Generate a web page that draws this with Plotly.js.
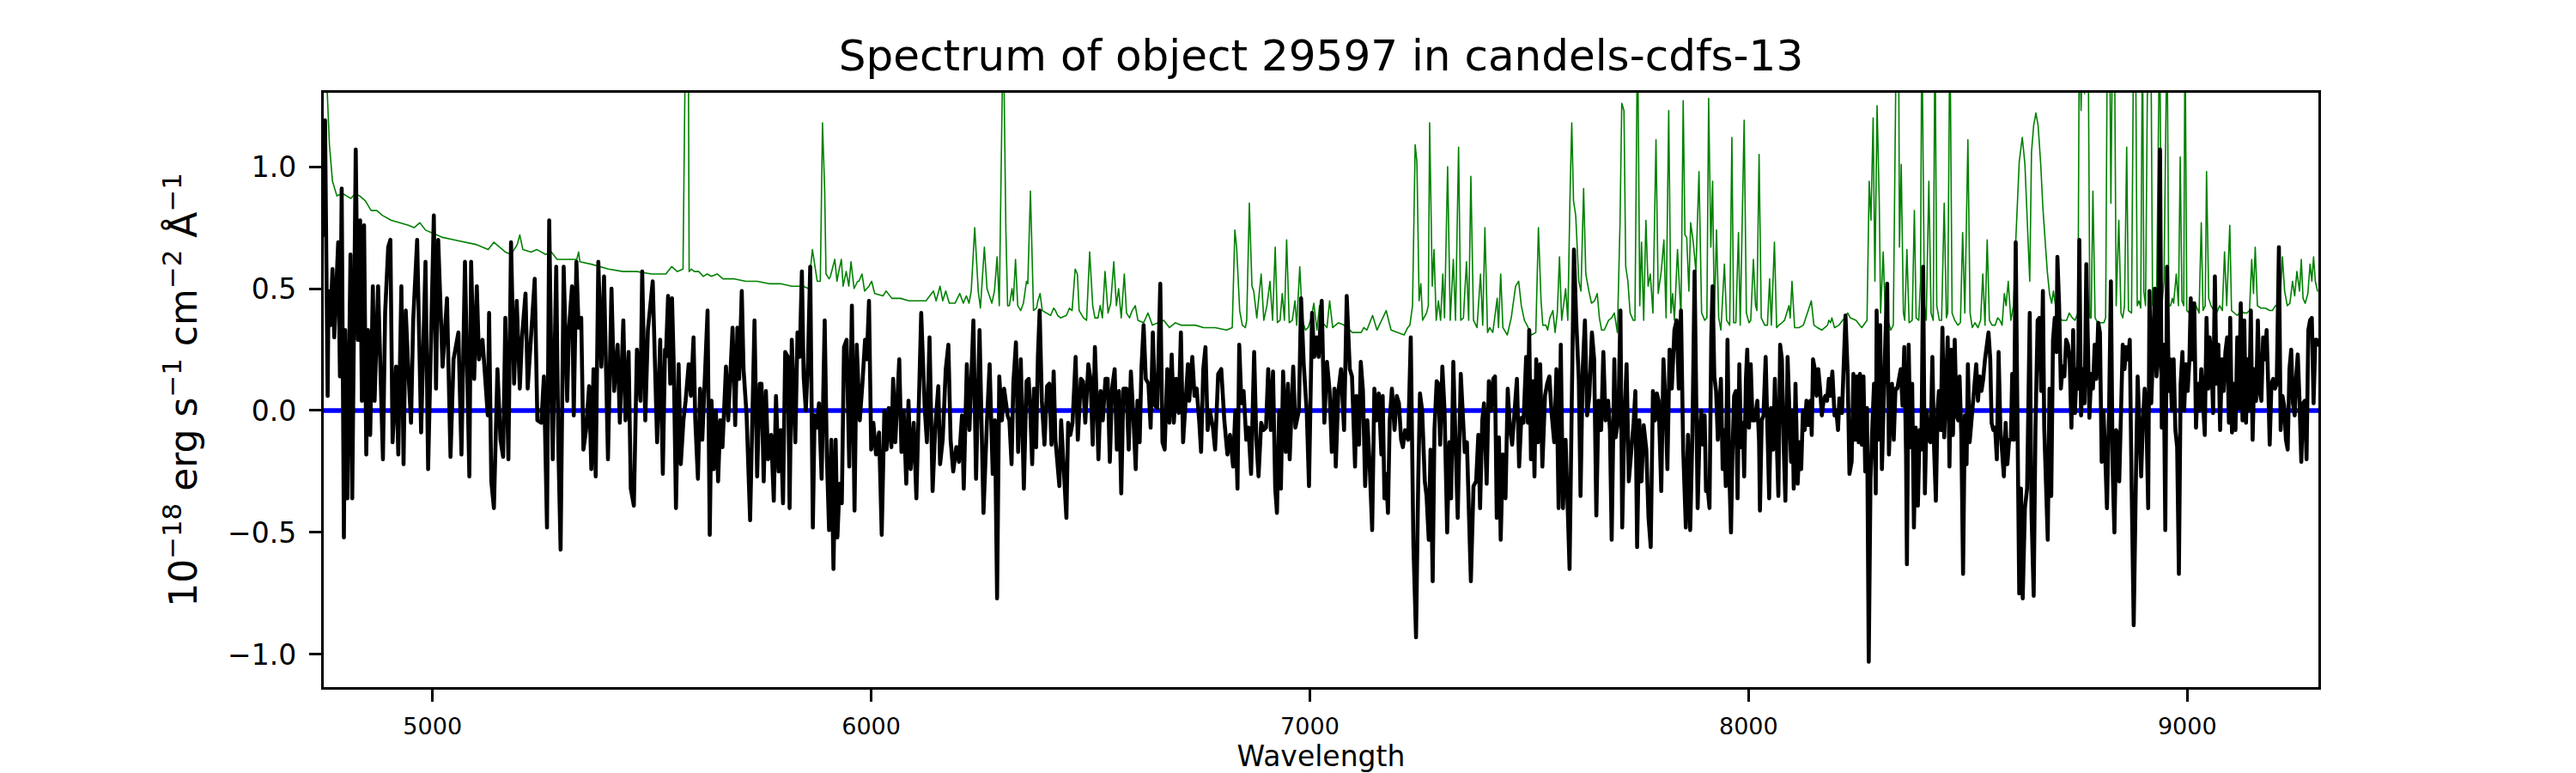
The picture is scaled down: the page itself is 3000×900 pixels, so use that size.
<!DOCTYPE html>
<html>
<head>
<meta charset="utf-8">
<script src="https://cdn.plot.ly/plotly-3.0.1.min.js"></script>
<style>
  html, body { margin: 0; padding: 0; background: #ffffff; }
  #chart { width: 3000px; height: 900px; }
  .scatterlayer path.js-line { stroke-linejoin: round; stroke-linecap: round; }
</style>
</head>
<body>
<div id="chart"></div>
<script>
// ---------- data ----------
const chartTitle = "Spectrum of object 29597 in candels-cdfs-13";
const xLabel = "Wavelength";
const yLabel = "10<sup>\u221218</sup> erg s<sup>\u22121</sup> cm<sup>\u22122</sup> \u00c5<sup>\u22121</sup>";

const xRange = [4752, 9299];
const yRange = [-1.134, 1.303];
const xTickVals = [5000, 6000, 7000, 8000, 9000];
const yTickVals = [-1.0, -0.5, 0.0, 0.5, 1.0];
const zeroLevel = 0;

// object flux (black)
const fluxWave = [
4752,4755,4761,4763,4767,4772,4776,4780,4785,4789,4793,4798,4801,4806,4813,4817,4821,4825,4830,4835,4839,4844,4849,4853,4858,4864,4868,4876,4887,4892,4899,4904,4909,4917,4922,4929,4934,4939,4945,4951,4956,4965,4974,4984,4990,4997,5003,5008,5013,5023,5033,5041,5048,5059,5066,5074,5084,5088,5095,5101,5106,5114,5126,5129,5134,5140,5148,5155,5161,5166,5173,5179,5186,5192,5199,5204,5212,5217,5224,5233,5239,5248,5254,5261,5266,5274,5282,5287,5292,5299,5307,5311,5318,5322,5328,5333,5339,5344,5350,5357,5362,5367,5372,5378,5385,5391,5400,5408,5414,5422,5427,5435,5440,5447,5452,5459,5466,5474,5478,5485,5491,5502,5512,5519,5525,5530,
5532,5537,5542,5546,5550,5555,5561,5566,5572,5577,5584,5589,5595,5599,5605,5610,5615,5621,5627,5632,5636,5641,5646,5651,5656,5661,5669,5674,5679,5684,5690,5695,5699,5705,5709,5716,5724,5734,5740,5746,5750,5755,5760,5765,5772,5778,5783,5789,5794,5799,5804,5810,5814,5819,5823,5827,5832,5837,5842,5846,5851,5856,5861,5867,5871,5876,5881,5887,5894,5899,5904,5909,5914,5919,5923,5928,5933,5938,5944,5950,5956,5962,5967,5974,5980,5986,5990,5995,6000,6005,6011,6018,6024,6030,6035,6040,6046,6050,6055,6059,6064,6069,6074,6080,6085,6090,6097,6103,6109,6114,6122,6127,6133,6140,6146,6153,6157,6163,6170,6176,6181,6187,6194,6200,6207,6211,6218,6224,6233,6239,6247,6256,6264,6270,6277,6282,6287,6292,6298,6303,6311,
6315,6320,6324,6330,6335,6341,6345,6348,6354,6359,6363,6367,6371,6376,6380,6384,6389,6395,6401,6406,6411,6416,6420,6425,6429,6433,6440,6445,6449,6454,6459,6466,6471,6478,6483,6488,6495,6500,6505,6510,6514,6518,6523,6528,6534,6539,6544,6549,6555,6560,6565,6570,6575,6582,6587,6592,6598,6603,6607,6612,6616,6621,6626,6632,6637,6642,6647,6652,6659,6664,6669,6675,6680,6685,6690,6695,6701,6706,6711,6716,6722,6725,6732,6737,6742,6748,6752,6757,6762,6767,6772,6779,6784,6791,6798,6805,6812,6818,6825,6830,6835,6839,6844,6849,6855,6860,6866,6873,6878,6883,6889,6894,6900,6905,6911,6916,6921,6925,6930,6934,6939,6945,6950,6954,6962,6967,6975,6980,6986,6993,6998,7005,7010,7015,7020,7027,7033,7039,7045,7050,7056,7059,7065,7071,7078,7084,7091,7096,
7103,7106,7112,7116,7121,7126,7131,7136,7142,7147,7152,7157,7163,7166,7170,7174,7178,7182,7187,7193,7198,7203,7208,7212,7217,7224,7230,7236,7242,7247,7251,7256,7262,7266,7271,7275,7280,7284,7289,7293,7297,7302,7307,7313,7318,7322,7327,7332,7337,7344,7349,7353,7358,7362,7367,7373,7379,7384,7388,7393,7397,7403,7408,7413,7418,7422,7426,7431,7435,7440,7446,7451,7456,7461,7467,7472,7477,7482,7487,7493,7497,7500,7504,7508,7512,7516,7520,7525,7530,7536,7541,7546,7551,7557,7562,7567,7572,7577,7583,7588,7592,7597,7602,7607,7613,7617,7622,7627,7632,7637,7643,7648,7653,7658,7664,7669,7674,7680,7684,7688,7694,7697,7703,7708,7712,7717,7722,7727,7733,7738,7742,7746,7751,7756,7761,7767,7772,7777,7782,7787,7791,7795,7801,7806,7811,7815,7820,7825,7831,7836,7841,7846,7851,7857,7862,7867,7872,7877,
7884,7888,7892,7896,7900,7903,7907,7911,7915,7918,7922,7926,7930,7933,7937,7941,7945,7948,7952,7956,7960,7963,7967,7971,7975,7979,7983,7987,7990,7994,7997,8001,8005,8009,8014,8020,8024,8026,8030,8034,8039,8043,8047,8051,8056,8060,8064,8068,8072,8076,8080,8084,8089,8093,8097,8100,8103,8107,8112,8116,8120,8124,8128,8132,8136,8141,8144,8147,8151,8155,8159,8163,8167,8171,8175,8179,8183,8187,8191,8196,8200,8204,8207,8213,8217,8221,8226,8230,8235,8239,8243,8247,8251,8254,8258,8262,8266,8270,8274,8278,8282,8286,8290,8292,8296,8300,8304,8308,8312,8316,8320,8324,8327,8331,8335,8339,8343,8347,8351,8355,8359,8361,8365,8369,8373,8377,8381,8386,8390,8394,8398,8402,8406,8410,8415,8419,8423,8427,8431,8434,8438,8442,8446,8450,8454,8458,8462,8466,8470,8474,8478,8481,8485,8489,8493,8497,8500,8504,8508,8511,8515,8519,8523,8527,8531,8535,8539,8543,8547,8551,8554,8558,8562,8566,8570,8574,8578,8582,8586,8590,8594,8598,8601,8605,8609,8613,8617,8621,8625,8630,8635,8641,8645,8650,8654,8659,
8663,8667,8671,8674,8678,8682,8686,8690,8694,8698,8702,8704,8708,8712,8716,8720,8724,8728,8732,8736,8740,8744,8748,8751,8754,8758,8762,8766,8770,8774,8777,8781,8785,8789,8793,8797,8801,8805,8809,8813,8817,8822,8826,8830,8834,8838,8841,8845,8849,8853,8857,8861,8865,8869,8873,8878,8883,8887,8891,8895,8899,8903,8907,8911,8914,8918,8922,8926,8930,8934,8938,8942,8946,8950,8954,8958,8961,8965,8969,8973,8977,8981,8985,8989,8993,8997,9001,9005,9008,9012,9016,9020,9024,9028,9032,9036,9040,9044,9048,9051,9055,9059,9063,9067,9071,9075,9079,9083,9087,9091,9095,9098,9102,9106,9110,9114,9118,9122,9126,9130,9134,9138,9141,9145,9149,9153,9157,9161,9165,9169,9173,9177,9181,9185,9188,9192,9196,9200,9204,9209,9213,9217,9221,9225,9229,9233,9237,9241,9245,9248,9252,9256,9260,9264,9268,9272,9276,9280,9284,9288,9292,9295,9299
];
const fluxValue = [
0.72,1.19,0.06,0.49,0.35,0.58,0.30,0.49,0.69,0.14,0.91,-0.52,0.33,-0.36,0.64,-0.36,0.49,1.07,0.29,0.78,0.04,0.76,-0.18,0.33,-0.10,0.51,0.04,0.51,-0.20,0.40,0.67,0.70,-0.13,0.18,-0.18,0.51,-0.22,0.41,0.16,-0.05,0.37,0.70,-0.09,0.61,-0.24,0.41,0.80,0.09,0.70,0.18,0.46,-0.19,0.21,0.32,-0.18,0.61,-0.27,0.61,0.13,0.51,0.21,0.29,-0.02,0.40,-0.29,-0.40,0.17,-0.12,-0.19,0.38,-0.20,0.69,0.11,0.45,0.09,0.30,0.48,0.09,0.29,0.54,-0.04,-0.05,0.14,-0.48,0.78,-0.20,0.59,-0.16,-0.57,0.59,0.04,0.33,0.51,-0.02,0.61,0.34,0.38,-0.16,-0.08,0.10,-0.24,0.17,-0.27,0.61,0.18,0.55,-0.20,0.50,0.08,0.27,-0.05,0.37,-0.04,0.24,-0.32,-0.39,0.25,0.04,0.57,-0.04,0.33,0.53,-0.13,0.29,-0.26,0.25,
0.22,0.47,0.11,0.46,0.18,-0.40,0.19,-0.22,-0.04,0.04,0.19,0.06,0.30,-0.04,-0.28,0.09,-0.12,0.13,0.41,-0.51,0.04,-0.24,0.00,-0.29,-0.04,-0.15,0.18,-0.04,0.17,0.34,-0.06,0.34,0.13,0.49,0.17,-0.02,-0.45,0.37,-0.27,0.11,0.11,-0.29,0.08,-0.20,-0.10,-0.37,0.06,-0.25,-0.08,-0.38,0.24,0.22,-0.40,0.29,0.08,-0.13,0.32,0.22,0.57,0.14,0.00,0.21,0.59,-0.48,-0.02,-0.07,0.03,-0.28,0.37,-0.19,-0.49,-0.12,-0.65,-0.12,-0.52,-0.30,-0.38,0.26,0.29,-0.23,0.43,-0.41,0.27,-0.04,0.11,0.29,0.21,0.45,-0.16,-0.05,-0.18,-0.09,-0.51,0.00,-0.16,0.01,-0.15,0.13,-0.13,0.07,0.21,-0.17,0.00,-0.30,0.04,-0.24,-0.05,-0.36,0.06,0.40,0.01,-0.13,0.30,-0.33,-0.07,0.10,-0.22,-0.12,0.17,0.27,-0.12,-0.25,-0.15,-0.21,-0.02,-0.32,0.19,-0.08,0.37,-0.28,0.33,-0.42,-0.04,0.19,-0.26,-0.04,-0.77,0.14,-0.04,0.09,-0.02,
-0.04,-0.22,0.11,0.28,-0.17,0.21,-0.04,-0.32,0.12,0.13,-0.02,-0.22,0.09,-0.15,0.22,0.41,0.04,-0.14,0.10,0.11,-0.14,0.16,-0.12,-0.22,-0.31,-0.04,-0.28,-0.44,-0.05,-0.10,-0.05,0.22,-0.12,0.13,0.12,-0.05,0.19,0.13,-0.14,0.26,0.05,-0.20,0.08,-0.04,0.13,0.13,-0.21,0.09,0.17,-0.16,0.08,-0.34,0.09,0.09,-0.16,0.16,-0.04,-0.24,0.04,-0.13,0.17,0.35,0.13,0.11,-0.07,0.32,0.02,0.01,0.52,-0.13,-0.16,0.17,-0.05,0.23,-0.05,0.13,-0.01,0.32,-0.13,0.05,0.19,0.04,0.22,0.06,0.09,-0.05,-0.17,0.17,0.26,-0.08,0.00,-0.07,-0.16,0.15,0.17,-0.04,-0.18,-0.10,-0.23,0.00,-0.32,0.27,0.03,0.08,-0.12,-0.07,-0.26,0.24,-0.12,-0.27,-0.05,-0.08,-0.07,0.17,-0.08,0.16,-0.32,-0.42,0.00,-0.32,0.16,-0.17,0.11,-0.20,0.18,-0.07,0.00,0.46,0.19,-0.01,-0.31,0.40,0.22,0.30,0.22,0.45,-0.05,0.20,0.08,-0.17,0.09,-0.23,0.08,0.17,-0.08,0.47,0.17,0.14,
-0.23,0.06,-0.14,0.20,0.08,-0.31,-0.04,-0.21,-0.49,0.09,-0.04,0.07,-0.18,0.06,-0.36,-0.26,-0.42,-0.04,0.09,-0.08,0.06,0.03,-0.12,-0.15,-0.08,-0.12,0.30,-0.55,-0.93,-0.29,0.07,0.00,-0.29,-0.35,-0.53,-0.16,-0.70,-0.08,0.12,0.11,-0.14,0.18,0.00,-0.50,-0.13,-0.36,0.20,-0.13,-0.44,0.15,-0.02,-0.17,-0.13,-0.42,-0.70,-0.31,-0.29,-0.10,-0.40,-0.04,0.03,-0.30,0.12,0.00,0.13,0.14,-0.44,-0.11,-0.53,-0.18,-0.36,0.09,-0.07,-0.14,0.01,0.13,-0.23,-0.03,-0.05,0.22,-0.05,0.33,-0.20,0.12,-0.27,0.21,-0.13,0.19,-0.23,0.06,0.11,0.14,-0.01,-0.13,0.17,-0.40,0.27,-0.40,-0.12,-0.36,-0.65,0.03,0.66,0.38,0.13,-0.35,0.17,0.37,-0.02,0.06,0.32,0.21,-0.43,0.04,-0.08,0.24,-0.04,0.04,-0.08,-0.53,0.21,-0.11,-0.04,0.41,-0.48,-0.04,0.19,-0.29,-0.17,-0.05,0.08,-0.56,-0.04,-0.29,-0.06,-0.16,-0.44,-0.56,0.08,-0.04,0.07,0.04,-0.33,0.21,0.01,-0.24,0.25,0.09,0.33,0.37,0.09,0.41,-0.16,-0.48,-0.10,-0.49,-0.10,0.57,
-0.40,-0.12,0.00,-0.14,-0.02,-0.33,-0.32,-0.40,0.30,0.51,0.14,0.08,-0.12,0.01,0.13,-0.24,-0.08,-0.31,0.29,-0.25,-0.50,-0.20,0.06,0.08,-0.36,0.19,-0.15,-0.05,-0.27,0.13,0.25,-0.07,0.19,-0.04,-0.04,0.04,-0.13,-0.41,-0.04,-0.02,0.22,-0.07,-0.36,0.01,-0.16,0.13,-0.16,-0.35,0.27,0.21,-0.14,-0.37,0.22,-0.04,-0.21,0.00,-0.32,0.11,-0.30,-0.13,-0.24,0.00,-0.08,0.04,-0.06,0.04,-0.10,0.21,0.17,0.06,0.17,0.09,-0.02,0.04,0.06,0.04,0.13,0.06,0.16,-0.02,0.00,-0.08,0.05,-0.01,0.16,0.39,0.15,-0.26,-0.21,0.15,-0.12,0.14,-0.13,0.15,-0.14,0.14,-0.25,0.01,-1.03,-0.28,-0.07,0.11,-0.34,0.41,-0.12,0.35,-0.24,0.11,0.30,0.52,-0.18,0.03,0.11,-0.12,0.09,0.09,0.13,0.17,0.02,0.26,-0.18,-0.63,0.27,-0.15,0.11,-0.48,-0.07,-0.39,-0.08,-0.16,0.59,-0.34,0.00,-0.12,-0.13,0.22,-0.16,-0.37,0.01,0.08,-0.08,0.34,-0.11,0.07,0.30,-0.23,0.25,-0.10,0.29,-0.02,-0.04,0.14,-0.10,-0.67,-0.02,-0.22,0.19,-0.13,-0.03,0.04,0.11,0.19,0.04,0.14,0.08,0.13,0.21,0.26,0.32,0.21,-0.05,-0.08,-0.07,-0.20,0.24,-0.07,-0.15,-0.27,-0.05,-0.22,-0.12,-0.12,0.15,-0.12,0.69,-0.02,-0.75,-0.32,-0.77,-0.40,-0.32,0.40,-0.42,-0.76,-0.08,0.37,
0.38,0.08,0.49,-0.07,-0.28,-0.53,0.09,-0.35,0.29,0.38,0.24,0.63,0.43,0.09,0.18,0.14,0.29,0.27,0.21,-0.07,0.33,-0.01,0.17,0.09,0.70,-0.02,0.17,0.03,0.60,0.13,-0.03,0.15,0.09,0.27,0.13,0.36,0.32,-0.21,0.00,-0.18,-0.40,0.02,0.53,-0.24,-0.50,-0.08,-0.10,-0.29,0.00,0.27,0.17,0.26,0.21,0.29,-0.28,-0.88,-0.28,0.14,-0.07,-0.27,-0.04,0.09,-0.04,-0.40,0.49,0.03,0.24,0.50,0.14,0.22,1.07,-0.07,0.27,-0.49,0.59,0.08,0.21,0.00,0.21,-0.08,-0.15,-0.67,0.11,0.24,0.00,0.19,0.08,0.21,0.46,0.21,0.44,-0.07,0.11,0.00,0.17,0.00,-0.10,0.38,0.09,0.30,0.22,-0.01,0.55,0.11,0.27,-0.08,0.21,0.08,0.24,0.30,-0.05,0.38,-0.09,0.11,-0.08,0.30,0.01,0.44,-0.04,0.37,-0.05,0.21,0.00,0.41,-0.12,0.17,0.04,0.37,0.08,0.04,0.30,0.21,0.33,0.08,-0.14,0.11,0.13,0.09,0.11,0.67,-0.08,0.06,0.02,-0.12,-0.16,0.17,0.25,0.03,-0.02,0.13,0.23,0.04,-0.21,0.03,0.04,-0.20,0.33,0.37,0.38,0.03,0.29,0.29,0.27
];

// sky / noise spectrum (green); 1.6 marks lines that run off the top
const skyWave = [
4755,4759,4765,4772,4782,4795,4804,4814,4824,4834,4847,4860,4873,4886,4906,4925,4945,4958,4971,4984,4997,5023,5049,5075,5101,5127,5140,5166,5179,5193,5199,5206,5225,5238,5258,5271,5284,5310,5329,5333,5336,5362,5382,5401,5434,5466,5499,5532,
5545,5558,5571,5574,5577,5583,5585,5590,5597,5607,5617,5626,5636,5649,5662,5688,5714,5740,5767,5793,5819,5845,5857,5866,5877,5884,5889,5894,5897,5904,5907,5917,5922,5926,5932,5936,5943,5949,5954,5961,5969,5972,5979,5985,5995,6001,6008,6027,6034,6047,6067,6086,6106,6125,6142,6148,6157,6163,6170,6178,6191,6202,6210,6217,6223,6228,6236,6244,6249,6258,6264,6269,6275,6281,6287,6292,6298,6301,6307,6311,
6315,6321,6324,6329,6334,6341,6347,6354,6357,6363,6370,6377,6380,6385,6390,6399,6409,6416,6420,6425,6432,6445,6452,6458,6465,6470,6474,6484,6491,6498,6505,6510,6517,6522,6527,6533,6540,6546,6553,6559,6564,6570,6577,6582,6589,6595,6602,6608,6621,6631,6641,6654,6667,6680,6693,6706,6719,6739,6758,6784,6810,6823,6829,6833,6840,6846,6853,6856,6862,6868,6872,6879,6889,6895,6902,6909,6915,6921,6926,6932,6937,6942,6947,6953,6960,6966,6970,6977,6983,6990,6996,7003,7009,7016,7022,7029,7039,7045,7052,7065,7078,7091,7097,
7117,7123,7130,7143,7153,7163,7174,7185,7202,7215,7223,7228,7234,7240,7244,7249,7253,7257,7266,7270,7273,7279,7283,7288,7293,7298,7303,7307,7314,7320,7327,7332,7339,7344,7350,7357,7362,7367,7373,7381,7389,7394,7399,7405,7410,7417,7427,7430,7435,7440,7450,7459,7469,7476,7482,7489,7495,7505,7515,7521,7527,7531,7538,7542,7547,7554,7559,7564,7569,7574,7583,7588,7593,7597,7601,7606,7613,7618,7624,7629,7636,7642,7649,7655,7660,7665,7671,7681,7688,7694,7701,7707,7711,7716,7720,7725,7730,7737,7741,7747,7752,7756,7761,7766,7771,7776,7782,7789,7794,7801,7807,7812,7818,7823,7827,7831,7838,7842,7846,7851,7855,7859,7864,7868,7874,
7880,7887,7893,7900,7905,7909,7914,7918,7922,7927,7932,7937,7945,7950,7957,7962,7966,7971,7977,7981,7990,7995,8001,8005,8011,8016,8019,8024,8029,8037,8043,8048,8052,8059,8064,8069,8076,8082,8087,8092,8095,8099,8105,8115,8125,8131,8136,8143,8149,8157,8167,8180,8183,8187,8190,8196,8206,8219,8226,8232,8245,8258,8270,8275,8279,8284,8288,8293,8298,8301,8307,8312,8318,8324,8330,8337,8342,8344,8348,8353,8356,8361,8366,8373,8378,8382,8388,8392,8395,8401,8405,8411,8416,8421,8425,8429,8435,8440,8446,8451,8454,8459,8464,8470,8477,8483,8488,8493,8500,8505,8510,8516,8523,8529,8534,8539,8544,8549,8555,8562,8568,8573,8578,8583,8587,8592,8598,8604,8609,8617,8624,8630,8637,8641,8645,8650,8655,8660,
8663,8666,8671,8676,8681,8686,8691,8695,8702,8708,8715,8725,8731,8738,8744,8751,8754,8758,8762,8766,8770,8774,8778,8781,8785,8790,8796,8803,8810,8814,8818,8823,8826,8830,8834,8838,8844,8849,8853,8857,8862,8866,8873,8878,8882,8886,8890,8894,8898,8901,8905,8909,8913,8917,8921,8925,8930,8937,8942,8947,8950,8954,8958,8962,8966,8969,8975,8980,8984,8988,8992,8995,8999,9005,9012,9020,9027,9032,9036,9041,9044,9049,9054,9061,9067,9074,9080,9085,9090,9097,9101,9108,9114,9123,9129,9136,9142,9147,9151,9155,9160,9168,9178,9188,9194,9201,9207,9212,9217,9222,9228,9234,9240,9245,9250,9256,9260,9264,9269,9275,9280,9284,9288,9292,9297
];
const skyValue = [
1.6,1.35,1.09,0.94,0.88,0.89,0.88,0.87,0.89,0.88,0.86,0.82,0.82,0.80,0.78,0.77,0.76,0.75,0.77,0.74,0.73,0.71,0.70,0.69,0.68,0.66,0.69,0.65,0.64,0.68,0.72,0.66,0.65,0.66,0.64,0.65,0.62,0.62,0.62,0.65,0.61,0.60,0.59,0.58,0.57,0.57,0.56,0.56,
0.59,0.57,0.58,1.6,1.6,1.6,0.57,0.58,0.57,0.57,0.55,0.56,0.55,0.56,0.54,0.54,0.53,0.53,0.52,0.52,0.51,0.51,0.50,0.66,0.53,0.53,1.18,0.90,0.56,0.54,0.55,0.62,0.53,0.57,0.62,0.51,0.57,0.51,0.61,0.50,0.53,0.53,0.56,0.49,0.51,0.53,0.48,0.47,0.49,0.46,0.46,0.45,0.45,0.45,0.49,0.45,0.51,0.45,0.49,0.44,0.44,0.48,0.44,0.47,0.44,0.49,0.75,0.49,0.42,0.67,0.50,0.47,0.44,0.49,0.63,0.43,1.6,1.6,0.74,0.43,
0.43,0.50,0.45,0.62,0.43,0.41,0.44,0.53,0.52,0.90,0.41,0.42,0.45,0.48,0.41,0.40,0.39,0.42,0.41,0.39,0.38,0.39,0.42,0.41,0.58,0.56,0.41,0.38,0.37,0.65,0.43,0.38,0.38,0.43,0.38,0.57,0.40,0.44,0.61,0.43,0.50,0.38,0.56,0.40,0.38,0.41,0.43,0.37,0.36,0.40,0.35,0.36,0.37,0.34,0.36,0.35,0.35,0.35,0.34,0.34,0.33,0.34,0.74,0.67,0.41,0.35,0.34,0.37,0.85,0.51,0.49,0.38,0.56,0.37,0.43,0.53,0.37,0.67,0.36,0.37,0.48,0.37,0.70,0.36,0.37,0.45,0.35,0.59,0.37,0.33,0.34,0.38,0.44,0.33,0.43,0.36,0.34,0.45,0.34,0.36,0.35,0.33,0.32,
0.32,0.34,0.33,0.39,0.33,0.37,0.41,0.33,0.32,0.31,0.34,0.35,0.43,1.09,1.02,0.45,0.52,0.37,0.40,0.43,1.18,0.51,0.66,0.37,0.45,0.37,0.56,0.38,1.00,0.37,0.62,0.37,1.08,0.37,0.38,0.61,0.37,0.96,0.37,0.34,0.56,0.35,0.75,0.32,0.34,0.32,0.46,0.34,0.56,0.34,0.31,0.38,0.51,0.53,0.43,0.37,0.35,0.31,0.32,0.75,0.45,0.35,0.35,0.33,0.38,0.41,0.32,0.40,0.63,0.37,0.50,0.37,0.88,1.18,0.86,0.80,0.53,0.49,0.91,0.56,0.49,0.44,0.45,0.48,0.38,0.33,0.33,0.37,0.38,0.40,0.32,0.77,1.26,1.23,0.59,0.53,0.40,0.37,0.37,1.6,0.43,0.69,0.37,0.78,0.51,0.56,0.40,1.11,0.48,0.57,0.70,0.38,1.23,0.40,0.48,0.37,0.66,0.50,0.38,1.27,0.72,0.71,0.49,0.77,0.69,
0.57,0.98,0.40,0.37,0.38,1.28,0.67,0.94,0.38,0.74,0.38,0.33,0.60,0.37,0.35,1.12,0.36,0.36,0.73,0.35,1.19,0.40,0.36,0.37,0.62,0.43,0.41,1.05,0.38,0.35,0.35,0.54,0.35,0.69,0.34,0.35,0.36,0.37,0.40,0.43,0.38,0.53,0.34,0.34,0.35,0.38,0.41,0.45,0.35,0.34,0.33,0.35,0.37,0.36,0.38,0.34,0.35,0.38,0.40,0.38,0.37,0.34,0.37,0.94,0.78,1.20,0.53,1.25,0.85,0.40,0.65,0.37,0.37,0.33,0.35,1.6,1.6,0.67,1.01,0.40,0.37,0.66,0.36,0.37,0.82,0.38,0.37,0.53,1.6,0.43,0.37,0.94,0.40,0.37,1.6,0.43,0.37,0.37,0.85,0.38,0.40,1.6,0.40,0.37,0.35,0.36,0.73,0.40,1.11,0.40,0.34,0.36,0.34,0.37,0.56,0.35,0.70,0.37,0.35,0.35,0.38,0.37,0.35,0.48,0.43,0.53,0.37,0.43,0.69,1.02,1.12,1.01,0.69,0.53,1.06,1.17,1.22,1.17,
1.09,1.01,0.83,0.69,0.57,0.48,0.44,0.49,0.40,0.38,0.37,0.37,0.40,0.38,0.37,0.40,1.6,1.23,1.6,1.30,1.6,1.6,0.38,0.38,0.90,0.38,0.36,0.36,0.36,0.38,1.6,1.6,0.85,1.6,1.6,0.43,0.78,0.40,0.38,0.43,1.08,0.41,0.40,1.6,1.6,0.43,0.45,0.42,1.6,0.49,0.43,1.28,1.6,1.6,0.43,0.46,0.43,1.6,0.42,0.53,1.30,1.6,0.43,0.43,0.46,0.44,0.56,0.43,1.04,0.45,0.43,1.6,0.41,0.40,0.43,0.43,0.40,0.77,0.41,0.43,0.98,0.46,0.43,0.41,0.40,0.43,0.41,0.65,0.43,0.76,0.41,0.40,0.39,0.41,0.40,0.40,0.41,0.62,0.48,0.67,0.43,0.42,0.42,0.41,0.41,0.43,0.43,0.46,0.63,0.49,0.43,0.44,0.53,0.47,0.57,0.49,0.62,0.46,0.44,0.48,0.60,0.53,0.63,0.53,0.49
];

// ---------- chart ----------
const FONT = "DejaVu Sans, Liberation Sans, sans-serif";

const traces = [
  {
    x: skyWave, y: skyValue, type: "scatter", mode: "lines",
    line: { color: "#008000", width: 1.6 }, hoverinfo: "skip", showlegend: false
  },
  {
    x: fluxWave, y: fluxValue, type: "scatter", mode: "lines",
    line: { color: "#000000", width: 4.6 }, hoverinfo: "skip", showlegend: false
  }
];

const layout = {
  width: 3000, height: 900,
  paper_bgcolor: "#ffffff", plot_bgcolor: "#ffffff",
  margin: { l: 377, r: 300, t: 108, b: 100, pad: 0 },
  font: { family: FONT, color: "#000000" },
  showlegend: false,
  title: {
    text: chartTitle,
    font: { family: FONT, size: 50, color: "#000000" },
    x: 0.5, xref: "paper", xanchor: "center",
    y: 1 - 64 / 900, yref: "container", yanchor: "middle"
  },
  xaxis: {
    range: xRange, autorange: false,
    tickvals: xTickVals, ticktext: xTickVals.map(String),
    ticks: "outside", ticklen: 14, tickwidth: 3, tickcolor: "#000000",
    tickfont: { family: FONT, size: 27, color: "#000000" },
    ticklabelstandoff: 5,
    showline: true, linewidth: 3.2, linecolor: "#000000", mirror: true,
    showgrid: false, zeroline: false, automargin: false,
    title: { text: xLabel, font: { family: FONT, size: 33, color: "#000000" }, standoff: 0 }
  },
  yaxis: {
    range: yRange, autorange: false,
    tickvals: yTickVals, tickformat: ".1f",
    ticks: "outside", ticklen: 14, tickwidth: 3, tickcolor: "#000000",
    tickfont: { family: FONT, size: 33, color: "#000000" },
    ticklabelstandoff: 8,
    showline: true, linewidth: 3.2, linecolor: "#000000", mirror: true,
    showgrid: false, zeroline: false, automargin: false,
    title: { text: yLabel, font: { family: FONT, size: 44, color: "#000000" }, standoff: 22 }
  },
  shapes: [
    {
      type: "line", xref: "paper", yref: "y", x0: 0, x1: 1, y0: zeroLevel, y1: zeroLevel,
      line: { color: "#0000ff", width: 5.5 }, layer: "below"
    }
  ]
};

Plotly.newPlot("chart", traces, layout, { displayModeBar: false, staticPlot: true });
</script>
</body>
</html>
